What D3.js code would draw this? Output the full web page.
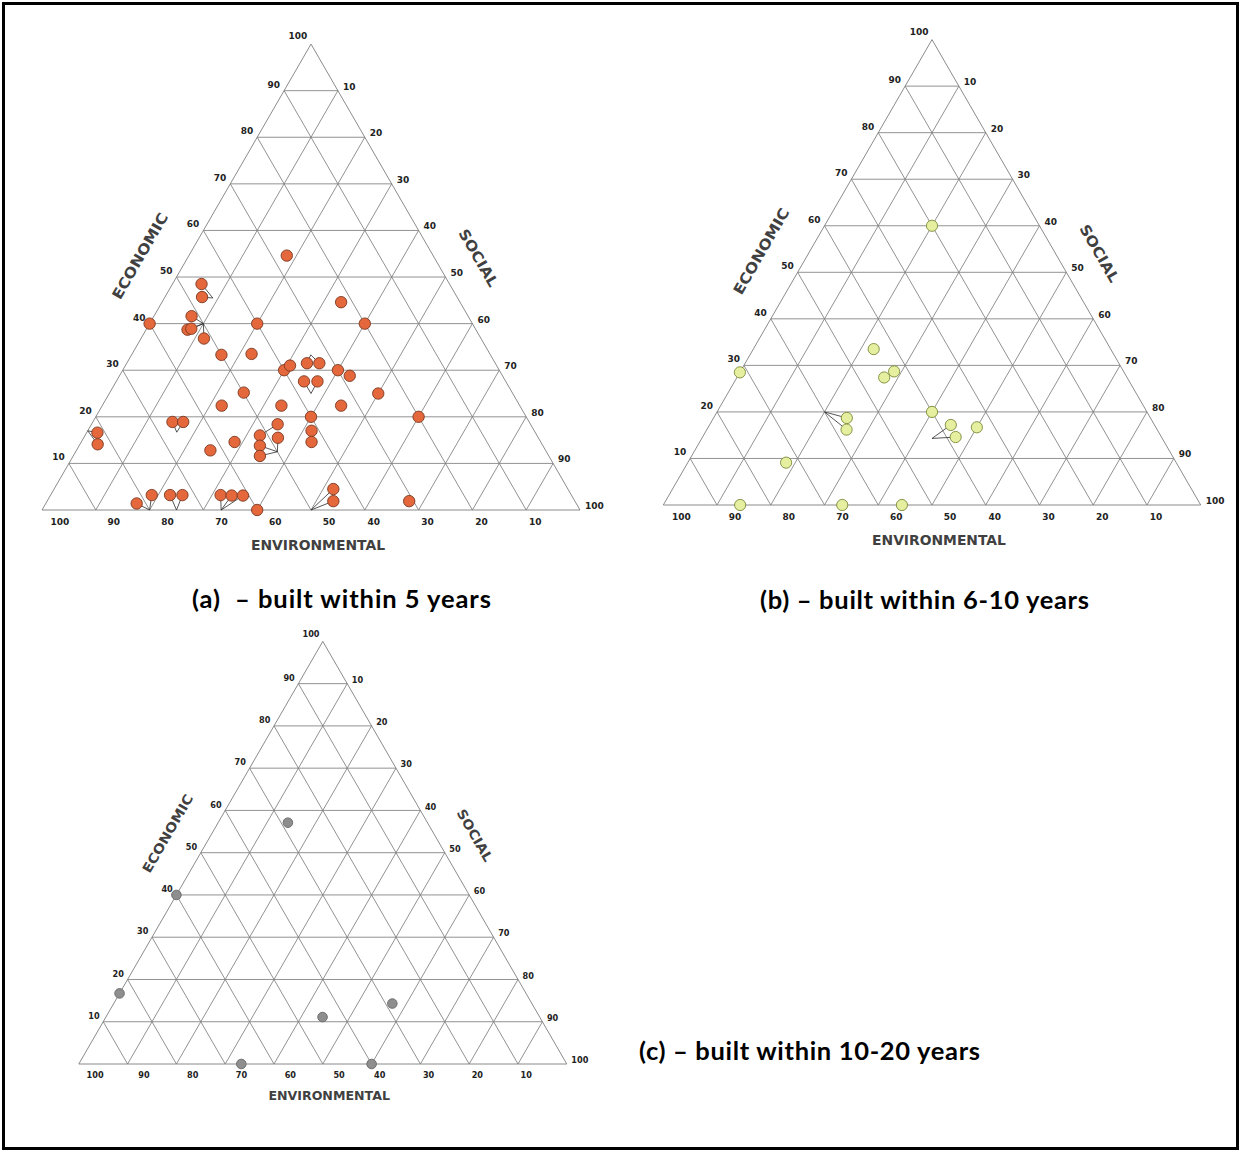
<!DOCTYPE html>
<html>
<head>
<meta charset="utf-8">
<script src="https://cdn.jsdelivr.net/npm/d3@7"></script>
<style>
  html, body { margin: 0; padding: 0; background: #fff; }
  svg { display: block; }
</style>
</head>
<body>
<svg id="chart" width="1241" height="1152"></svg>
<script>
// Each building: [economic, social, environmental] share in %.
const builtWithin5Years = [
  [54.6, 18.2, 27.2], [48.5, 5.4, 46.1], [45.7, 6.9, 47.4], [40, 0, 60],
  [41.6, 7.0, 51.4], [38.7, 7.7, 53.6], [38.9, 8.3, 52.8], [36.8, 11.7, 51.5],
  [33.3, 16.7, 50.0], [33.5, 22.2, 44.3], [40, 20, 40], [25.2, 24.9, 49.9],
  [22.4, 22.2, 55.4], [18.9, 14.8, 66.3], [18.9, 16.8, 64.3], [16.6, 2.0, 81.4],
  [14.1, 3.3, 82.6], [12.8, 24.9, 62.3], [14.6, 28.5, 56.9], [16.0, 32.5, 51.5],
  [13.8, 33.6, 52.6], [11.6, 34.7, 53.7], [18.4, 34.6, 47.0], [15.5, 36.1, 48.4],
  [1.4, 16.9, 81.7], [3.2, 18.8, 78.0], [3.2, 22.2, 74.6], [3.2, 24.5, 72.3],
  [3.2, 31.6, 65.2], [3.1, 33.7, 63.2], [3.1, 35.8, 61.1], [0, 40, 60],
  [44.6, 33.3, 22.1], [40, 40, 20], [30, 30, 40], [31, 30.6, 38.4],
  [31.5, 33.5, 35.0], [31.5, 35.8, 32.7], [27.6, 34.9, 37.5], [27.6, 37.4, 35.0],
  [30, 40, 30], [28.8, 42.8, 28.4], [25, 50, 25], [22.4, 33.3, 44.3],
  [22.4, 44.4, 33.2], [20, 40, 40], [20, 60, 20], [17.0, 41.6, 41.4],
  [14.6, 42.8, 42.6], [4.5, 51.9, 43.6], [1.9, 53.2, 44.9], [1.9, 67.3, 30.8]
];
const builtWithin6to10Years = [
  [60, 20, 20], [33.5, 22.4, 44.1], [28.7, 28.6, 42.7], [27.4, 27.4, 45.2],
  [28.5, 0, 71.5], [20, 40, 40], [18.7, 24.8, 56.5], [16.2, 26.0, 57.8],
  [17.2, 44.9, 37.9], [14.6, 47.1, 38.3], [16.7, 50, 33.3], [9.1, 18.3, 72.6],
  [0, 14.3, 85.7], [0, 33.3, 66.7], [0, 44.4, 55.6]
];
const builtWithin10to20Years = [
  [57.1, 14.3, 28.6], [40, 0, 60], [16.7, 0, 83.3], [11.1, 44.4, 44.5],
  [14.3, 57.1, 28.6], [0, 33.3, 66.7], [0, 60, 40]
];

// Call-out lines: a marker (by index) tied back to the composition it stands for.
const calloutsWithin5Years = [
  [1, [45.5, 9, 45.5]], [2, [45.5, 9, 45.5]],
  [4, [40, 10, 50]], [5, [40, 10, 50]], [6, [40, 10, 50]], [7, [40, 10, 50]],
  [13, [16.7, 16.7, 66.6]], [14, [16.7, 16.7, 66.6]],
  [15, [17, 0, 83]], [16, [17, 0, 83]],
  [19, [18.4, 34.6, 47.0]],
  [20, [12.5, 37.5, 50]], [21, [12.5, 37.5, 50]], [23, [12.5, 37.5, 50]],
  [24, [0, 20, 80]], [25, [0, 20, 80]],
  [26, [0, 25, 75]], [27, [0, 25, 75]],
  [28, [0, 33.3, 66.7]], [29, [0, 33.3, 66.7]], [30, [0, 33.3, 66.7]],
  [36, [33.3, 33.3, 33.4]], [37, [33.3, 33.3, 33.4]],
  [38, [25, 37.5, 37.5]], [39, [25, 37.5, 37.5]],
  [49, [0, 50, 50]], [50, [0, 50, 50]]
];
const calloutsWithin6to10Years = [
  [6, [20, 20, 60]], [7, [20, 20, 60]],
  [8, [14.3, 42.85, 42.85]], [9, [14.3, 42.85, 42.85]]
];
const calloutsWithin10to20Years = [];

const tickValues = d3.range(10, 100, 10);           // 10 … 90
const bottomTickValues = d3.range(100, 0, -10);     // 100 … 10
const axisTitles = ["ECONOMIC", "SOCIAL", "ENVIRONMENTAL"];
const captions = [
  "(a)  \u2013 built within 5 years",
  "(b) \u2013 built within 6-10 years",
  "(c) \u2013 built within 10-20 years"
];

const svg = d3.select("#chart");

// outer frame
svg.append("rect")
  .attr("x", 3.5).attr("y", 3.5).attr("width", 1234).attr("height", 1145)
  .attr("fill", "#fff").attr("stroke", "#000").attr("stroke-width", 3);

const panels = [
  { left: 42, right: 580, base: 510, data: builtWithin5Years, callouts: calloutsWithin5Years,
    fill: "#e4683c", stroke: "#7a3820", r: 5.7,
    caption: captions[0], capX: 341.5, capY: 608, capLen: 299 },
  { left: 663.3, right: 1200.7, base: 505, data: builtWithin6to10Years, callouts: calloutsWithin6to10Years,
    fill: "#e6efa0", stroke: "#7d8a38", r: 5.6,
    caption: captions[1], capX: 924.5, capY: 609, capLen: 329 },
  { left: 78.8, right: 566.8, base: 1064, data: builtWithin10to20Years, callouts: calloutsWithin10to20Years,
    fill: "#8e8e8e", stroke: "#666", r: 4.8,
    caption: captions[2], capX: 809.5, capY: 1060, capLen: 341 }
];

const S3 = Math.sqrt(3) / 2;

panels.forEach(p => {
  const w = p.right - p.left;
  const sc = w / 538;
  const xs = d3.scaleLinear().domain([0, 100]).range([p.left, p.right]);
  const ys = d3.scaleLinear().domain([0, 100]).range([p.base, p.base - w * S3]);
  // [economic, social] -> pixel
  const proj = ([e, s]) => [xs(s + e / 2), ys(e)];
  const g = svg.append("g");

  // grid
  const segs = [];
  tickValues.forEach(k => {
    segs.push([proj([k, 0]), proj([k, 100 - k])]);       // constant economic
    segs.push([proj([0, k]), proj([100 - k, k])]);       // constant social
    segs.push([proj([0, 100 - k]), proj([100 - k, 0])]); // constant environmental
  });
  const line = d3.line();
  g.append("g").selectAll("path").data(segs).join("path")
    .attr("d", d => line(d))
    .attr("fill", "none").attr("stroke", "#7e7e7e").attr("stroke-width", 0.85);

  g.append("path")
    .attr("d", line([proj([0, 0]), proj([100, 0]), proj([0, 100])]) + "Z")
    .attr("fill", "none").attr("stroke", "#7e7e7e").attr("stroke-width", 0.9);

  const tickFont = (sel) => sel
    .attr("font-family", "'DejaVu Sans', sans-serif")
    .attr("font-weight", "bold")
    .attr("font-size", (9 * sc).toFixed(2) + "px")
    .attr("fill", "#222");

  // economic ticks (left edge) and apex
  g.append("g").selectAll("text").data(tickValues).join("text")
    .attr("x", k => proj([k, 0])[0] - 4 * sc)
    .attr("y", k => proj([k, 0])[1] - 3 * sc)
    .attr("text-anchor", "end")
    .text(k => k).call(tickFont);
  const apex = proj([100, 0]);
  g.append("text")
    .attr("x", apex[0] - 13 * sc).attr("y", apex[1] - 5 * sc)
    .attr("text-anchor", "middle").text(100).call(tickFont);

  // social ticks (right edge)
  g.append("g").selectAll("text").data(tickValues.concat([100])).join("text")
    .attr("x", k => proj([100 - k, k])[0] + 5 * sc)
    .attr("y", k => proj([100 - k, k])[1] - 1 * sc)
    .attr("text-anchor", "start")
    .text(k => k).call(tickFont);

  // environmental ticks (base)
  g.append("g").selectAll("text").data(bottomTickValues).join("text")
    .attr("x", k => proj([0, 100 - k])[0] + (k >= 50 ? 18 : 9) * sc)
    .attr("y", k => proj([0, 100 - k])[1] + 15 * sc)
    .attr("text-anchor", "middle")
    .text(k => k).call(tickFont);

  // axis titles
  const titleFont = (sel) => sel
    .attr("font-family", "'DejaVu Sans', sans-serif")
    .attr("font-weight", "bold")
    .attr("font-size", (14.5 * sc).toFixed(2) + "px")
    .attr("fill", "#404040")
    .attr("text-anchor", "middle")
    .attr("dominant-baseline", "central")
    .attr("lengthAdjust", "spacingAndGlyphs");

  const lm = proj([50, 0]);
  const ecoPos = [lm[0] - 0.866 * 42 * sc, lm[1] - 0.5 * 42 * sc];
  g.append("text")
    .attr("transform", `translate(${ecoPos[0]},${ecoPos[1]}) rotate(-60)`)
    .attr("textLength", 97 * sc)
    .text(axisTitles[0]).call(titleFont);

  const rm = proj([50, 50]);
  const socPos = [rm[0] + 0.866 * 38 * sc, rm[1] - 0.5 * 38 * sc];
  g.append("text")
    .attr("transform", `translate(${socPos[0]},${socPos[1]}) rotate(60)`)
    .attr("textLength", 64 * sc)
    .text(axisTitles[1]).call(titleFont);

  g.append("text")
    .attr("x", apex[0] + 7 * sc).attr("y", p.base + 35 * sc)
    .attr("textLength", 134 * sc)
    .text(axisTitles[2]).call(titleFont);

  // call-out lines
  g.append("g").selectAll("path").data(p.callouts).join("path")
    .attr("d", ([i, anchor]) => line([proj(p.data[i]), proj(anchor)]))
    .attr("fill", "none").attr("stroke", "#2b2b2b").attr("stroke-width", 0.8);

  // markers
  g.append("g").selectAll("circle").data(p.data).join("circle")
    .attr("cx", d => proj(d)[0])
    .attr("cy", d => proj(d)[1])
    .attr("r", p.r)
    .attr("fill", p.fill)
    .attr("stroke", p.stroke)
    .attr("stroke-width", 0.9);

  // caption
  svg.append("text")
    .attr("x", p.capX).attr("y", p.capY)
    .attr("text-anchor", "middle")
    .attr("font-family", "Lato, 'Open Sans', sans-serif")
    .attr("font-weight", "bold")
    .attr("font-size", "25.5px")
    .attr("fill", "#000")
    .attr("textLength", p.capLen)
    .attr("style", "white-space: pre")
    .text(p.caption);
});
</script>
</body>
</html>
